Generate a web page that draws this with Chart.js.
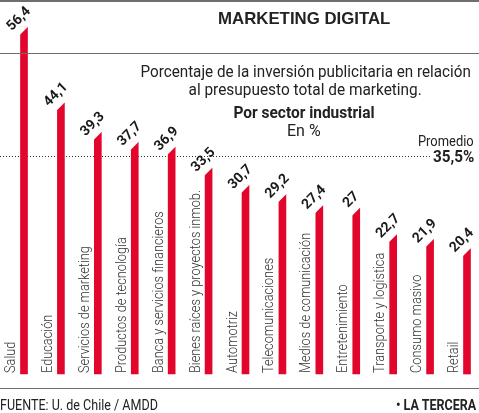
<!DOCTYPE html>
<html>
<head>
<meta charset="utf-8">
<script src="https://cdn.jsdelivr.net/npm/chart.js@4/dist/chart.umd.min.js"></script>
<style>
  body { margin: 0; background: #fff; }
  #wrap { position: relative; width: 479px; height: 413px; overflow: hidden; font-family: Roboto, "Liberation Sans", sans-serif; color: #222; }
  #wrap canvas { position: absolute; left: 0; top: 0; }
  .rule { position: absolute; left: 0; width: 479px; height: 1px; background: #6e6e6e; }
  .txt { position: absolute; white-space: nowrap; line-height: 1; }
</style>
</head>
<body>
<div id="wrap">
  <canvas id="my-chart" width="479" height="413"></canvas>
  <div class="rule" style="top:0px;height:2px;"></div>
  <div class="rule" style="top:53px;"></div>
  <div class="rule" style="top:388px;"></div>
  <div class="txt" data-w="172" style="left:218px;top:9px;font:bold 17px 'Liberation Sans',sans-serif;">MARKETING DIGITAL</div>
  <div class="txt" data-w="330" data-o="center" style="left:140px;top:64px;font-size:16px;">Porcentaje de la inversión publicitaria en relación</div>
  <div class="txt" data-w="233" data-o="center" style="left:188px;top:82px;font-size:16px;">al presupuesto total de marketing.</div>
  <div class="txt" data-w="141" data-o="center" style="left:233px;top:105px;font-size:16px;font-weight:bold;">Por sector industrial</div>
  <div class="txt" data-w="34" data-o="center" style="left:287px;top:123px;font-size:16px;">En %</div>
  <div class="txt" data-w="56" data-o="right" style="right:5px;top:134px;font-size:15px;">Promedio</div>
  <div class="txt" data-w="41" data-o="right" style="right:5px;top:149px;font-size:16px;font-weight:bold;">35,5%</div>
  <div class="txt" data-w="158" style="left:0;top:398px;font-size:15px;">FUENTE: U. de Chile / AMDD</div>
  <div class="txt" data-w="80" data-o="right" style="right:3px;top:398px;font-size:15px;font-weight:bold;">• LA TERCERA</div>
</div>
<script>
'use strict';

// Data
let sectors = ['Salud', 'Educación', 'Servicios de marketing', 'Productos de tecnología',
  'Banca y servicios financieros', 'Bienes raíces y proyectos inmob.', 'Automotriz',
  'Telecomunicaciones', 'Medios de comunicación', 'Entretenimiento',
  'Transporte y logística', 'Consumo masivo', 'Retail'];
let shares = [56.4, 44.1, 39.3, 37.7, 36.9, 33.5, 30.7, 29.2, 27.4, 27, 22.7, 21.9, 20.4];
let shareLabels = ['56,4', '44,1', '39,3', '37,7', '36,9', '33,5', '30,7', '29,2', '27,4', '27', '22,7', '21,9', '20,4'];
let average = 35.5;

let barRed = '#e2062c';

// squeeze the html texts to the widths of the original (narrow typeface)
let texts = document.querySelectorAll('.txt');
for (let i = 0; i < texts.length; i++) {
  let el = texts[i];
  let s = Number(el.dataset.w) / el.offsetWidth;
  el.style.transformOrigin = (el.dataset.o || 'left') + ' center';
  if (el.dataset.o === 'center') {
    let mid = el.offsetLeft + Number(el.dataset.w) / 2;
    el.style.left = (mid - el.offsetWidth / 2) + 'px';
  }
  el.style.transform = 'scaleX(' + s + ')';
}

// cut top-left corner of bars, labels, average line
let decorPlugin = {
  id: 'decor',
  beforeDatasetsDraw(chart) {
    let ctx = chart.ctx;
    let yAvg = Math.round(chart.scales.y.getPixelForValue(average)) + 0.5;
    ctx.save();
    ctx.strokeStyle = '#333';
    ctx.lineWidth = 1;
    ctx.setLineDash([1, 2]);
    ctx.beginPath();
    ctx.moveTo(0, yAvg);
    ctx.lineTo(432, yAvg);
    ctx.stroke();
    ctx.restore();
  },
  afterDatasetsDraw(chart) {
    let ctx = chart.ctx;
    let meta = chart.getDatasetMeta(0);
    let bottom = chart.scales.y.getPixelForValue(0);
    let catFont = '300 14px Roboto';
    let valFont = 'bold 14px Roboto';
    ctx.save();
    ctx.font = catFont;
    let catScale = 183 / ctx.measureText('Bienes raíces y proyectos inmob.').width;
    for (let i = 0; i < meta.data.length; i++) {
      let bar = meta.data[i];
      let p = bar.getProps(['x', 'y', 'width'], true);
      let w = p.width;
      // white triangle for the slanted top
      ctx.fillStyle = '#fff';
      ctx.beginPath();
      ctx.moveTo(p.x - w / 2 - 1, p.y - 1);
      ctx.lineTo(p.x + w / 2 + 1, p.y - 1);
      ctx.lineTo(p.x + w / 2, p.y);
      ctx.lineTo(p.x - w / 2 - 1, p.y + w + 1);
      ctx.closePath();
      ctx.fill();

      // value label
      ctx.save();
      ctx.translate(p.x - 5, p.y - 8);
      ctx.rotate(-Math.PI / 4);
      ctx.fillStyle = '#1a1a1a';
      ctx.font = valFont;
      ctx.textAlign = 'center';
      ctx.textBaseline = 'middle';
      ctx.fillText(shareLabels[i], 0, 0);
      ctx.restore();

      // sector label
      ctx.save();
      ctx.translate(p.x - 9, bottom - 1);
      ctx.rotate(-Math.PI / 2);
      ctx.scale(catScale, 1);
      ctx.fillStyle = '#333';
      ctx.font = catFont;
      ctx.textAlign = 'left';
      ctx.textBaseline = 'alphabetic';
      ctx.fillText(sectors[i], 0, 0);
      ctx.restore();
    }
    ctx.restore();
  }
};

let ctx = document.getElementById('my-chart');

let chartObject = {
  type: 'bar',
  data: {
    labels: sectors,
    datasets: [{
      data: shares,
      backgroundColor: barRed,
      borderWidth: 0,
      barThickness: 7,
      clip: false
    }]
  },
  options: {
    responsive: false,
    animation: false,
    events: [],
    layout: {
      padding: { left: 24, right: 12, top: 5, bottom: 39 }
    },
    plugins: {
      legend: { display: false },
      tooltip: { enabled: false }
    },
    scales: {
      x: { display: false, offset: false },
      y: { display: false, min: 0, max: 60 }
    }
  },
  plugins: [decorPlugin]
};

const sectorChart = new Chart(ctx, chartObject);
</script>
</body>
</html>
